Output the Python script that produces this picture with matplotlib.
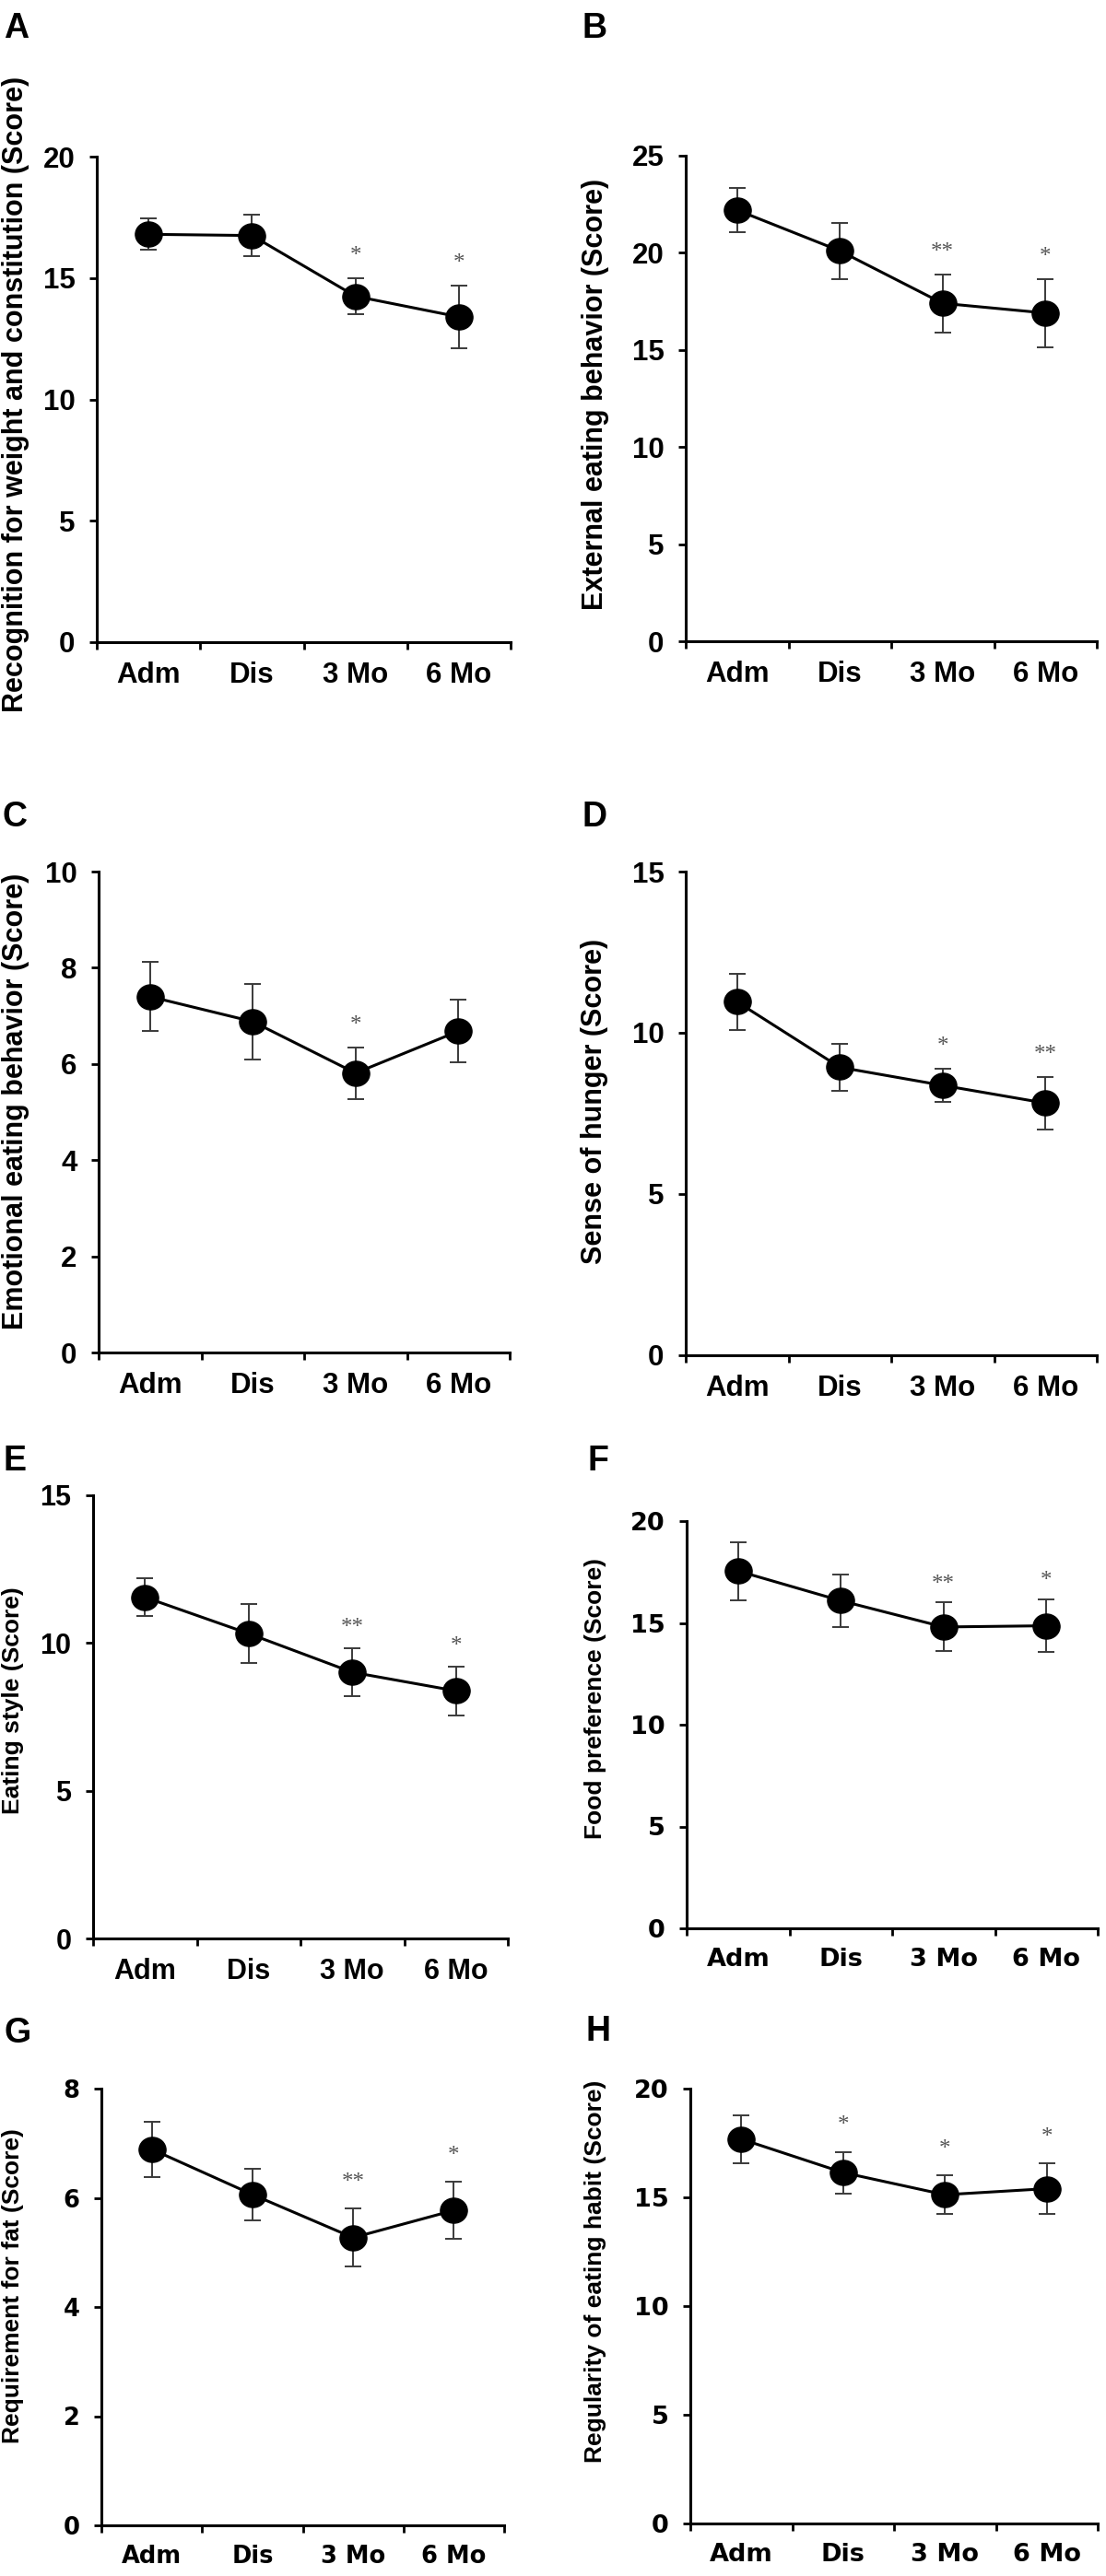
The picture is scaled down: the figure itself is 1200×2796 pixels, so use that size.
import numpy as np
import matplotlib
matplotlib.use("Agg")
import matplotlib.pyplot as plt
from matplotlib.path import Path
from matplotlib.transforms import Affine2D

timepoints = ["Adm", "Dis", "3 Mo", "6 Mo"]

# mean scores and error bars
recognition_mean = [16.8, 16.75, 14.25, 13.4]
recognition_err = [0.65, 0.85, 0.75, 1.3]
recognition_sig = ["", "", "*", "*"]

external_mean = [22.2, 20.1, 17.4, 16.9]
external_err = [1.15, 1.45, 1.5, 1.75]
external_sig = ["", "", "**", "*"]

emotional_mean = [7.4, 6.88, 5.81, 6.68]
emotional_err = [0.72, 0.79, 0.54, 0.65]
emotional_sig = ["", "", "*", ""]

hunger_mean = [10.96, 8.93, 8.37, 7.82]
hunger_err = [0.87, 0.72, 0.52, 0.81]
hunger_sig = ["", "", "*", "**"]

style_mean = [11.55, 10.32, 9.01, 8.38]
style_err = [0.65, 1.0, 0.82, 0.82]
style_sig = ["", "", "**", "*"]

food_mean = [17.55, 16.09, 14.8, 14.86]
food_err = [1.43, 1.3, 1.2, 1.3]
food_sig = ["", "", "**", "*"]

fat_mean = [6.89, 6.06, 5.27, 5.77]
fat_err = [0.51, 0.48, 0.53, 0.52]
fat_sig = ["", "", "**", "*"]

regularity_mean = [17.68, 16.14, 15.12, 15.4]
regularity_err = [1.1, 0.95, 0.9, 1.15]
regularity_sig = ["", "*", "*", "*"]

letters = ["A", "B", "C", "D", "E", "F", "G", "H"]
ylabels = ["Recognition for weight and constitution (Score)",
           "External eating behavior (Score)",
           "Emotional eating behavior (Score)",
           "Sense of hunger (Score)",
           "Eating style (Score)",
           "Food preference (Score)",
           "Requirement for fat (Score)",
           "Regularity of eating habit (Score)"]
ymax = [20, 25, 10, 15, 15, 20, 8, 20]
ystep = [5, 5, 2, 5, 5, 5, 2, 5]
means = [recognition_mean, external_mean, emotional_mean, hunger_mean,
         style_mean, food_mean, fat_mean, regularity_mean]
errs = [recognition_err, external_err, emotional_err, hunger_err,
        style_err, food_err, fat_err, regularity_err]
sigs = [recognition_sig, external_sig, emotional_sig, hunger_sig,
        style_sig, food_sig, fat_sig, regularity_sig]

W, H = 1200, 2796
# axes box in pixels: left, right, top, bottom
boxes = [(105, 554, 170, 697), (744, 1190, 169, 696),
         (107, 553, 946, 1468), (744, 1190, 946, 1471),
         (101, 551, 1623, 2104), (745, 1191, 1651, 2093),
         (110, 547, 2267, 2741), (749, 1191, 2267, 2739)]
letter_pos = [(4, 41), (631, 41), (3, 897), (631, 897),
              (3, 1596), (637, 1596), (4, 2217), (636, 2215)]
ylabel_pos = [(17, 428), (646, 428), (17, 1195), (645, 1195),
              (14, 1846), (646, 1844), (14, 2481), (646, 2465)]
tick_font = ["Liberation Sans"] * 5 + ["DejaVu Sans"] * 3
tick_size = [22.5, 22.5, 22.5, 22.5, 22, 19.5, 18.5, 19.5]

ellipse = Path.unit_circle().transformed(Affine2D().scale(1.0, 0.93))

fig = plt.figure(figsize=(W / 100, H / 100), dpi=100)

for i in range(8):
    l, r, t, b = boxes[i]
    ax = fig.add_axes([l / W, 1 - b / H, (r - l) / W, (b - t) / H])
    x = np.arange(4) + 0.5
    ax.errorbar(x, means[i], yerr=errs[i], fmt="none", ecolor="#3a3a3a",
                elinewidth=1.4, capsize=6.5, capthick=1.4, zorder=2)
    ax.plot(x, means[i], color="black", lw=2.2, marker=ellipse, ms=21,
            mfc="black", mec="black", zorder=3, clip_on=False)

    pad = 0.045 * ymax[i] if i < 6 else 0.06 * ymax[i]
    for xi, m, e, s in zip(x, means[i], errs[i], sigs[i]):
        if s:
            ax.text(xi, m + e + pad, s, ha="center", va="center",
                    fontsize=18, color="#555555", family="Liberation Serif")

    ax.set_xlim(0, 4)
    ax.set_ylim(0, ymax[i])
    ax.set_yticks(np.arange(0, ymax[i] + 0.1, ystep[i]))
    ax.set_xticks([0, 1, 2, 3, 4])
    ax.set_xticklabels([])
    ax.set_xticks(x, minor=True)
    ax.set_xticklabels(timepoints, minor=True)

    for side in ["top", "right"]:
        ax.spines[side].set_visible(False)
    for side in ["left", "bottom"]:
        ax.spines[side].set_linewidth(2.2)

    ax.tick_params(axis="both", which="major", length=6, width=2, direction="out")
    ax.tick_params(axis="y", pad=11)
    ax.tick_params(axis="x", which="minor", length=0, pad=15)
    for lab in ax.get_yticklabels() + ax.get_xticklabels(minor=True):
        lab.set_family(tick_font[i])
        lab.set_fontsize(tick_size[i])
        lab.set_fontweight("bold")

    lx, ly = letter_pos[i]
    fig.text(lx / W, 1 - ly / H, letters[i], fontsize=27, fontweight="bold",
             family="Liberation Sans", ha="left", va="baseline")
    yx, yy = ylabel_pos[i]
    fig.text(yx / W, 1 - yy / H, ylabels[i], rotation=90, ha="center", va="center",
             fontsize=22 if i < 4 else 19, fontweight="bold",
             family="Liberation Sans")

fig.savefig("out.png", dpi=100)
